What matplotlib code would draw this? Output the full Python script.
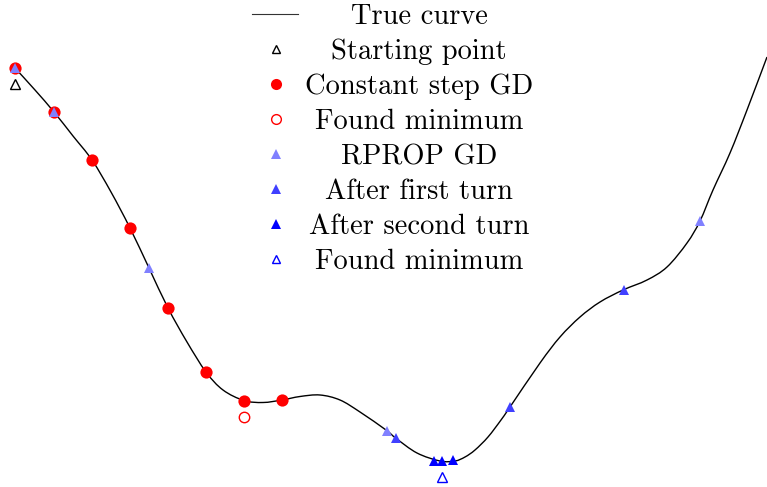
import matplotlib
matplotlib.use("Agg")
import matplotlib.pyplot as plt
import matplotlib.transforms as mtransforms
from matplotlib.path import Path
from matplotlib.patches import PathPatch

# True objective curve, sampled along x
curve_x = [15, 35, 54, 73, 92, 111, 130, 149, 168, 187, 206, 223, 244, 263, 282,
           300, 320, 340, 360, 386, 396, 417, 440, 455, 465, 475, 488, 501, 510,
           540, 560, 580, 600, 623, 647, 667, 687, 700, 713, 730, 747, 767]
curve_y = [419, 397, 375, 351, 327, 295, 259, 219, 179, 145, 115, 97, 86.5, 84.5, 87,
           90.5, 92, 87, 75, 57, 48.7, 34, 26, 26, 30, 37, 50, 67, 80,
           124, 150, 170, 185, 197, 207, 220, 244, 266, 297, 334, 377, 430]

# Constant-step gradient descent iterates
gd_x = [15, 54, 92, 130, 168, 206, 244, 282]
gd_y = [419, 375, 327, 259, 179, 115, 86.5, 87]
gd_min_x = [244]
gd_min_y = [86.5]

# RPROP iterates, split by phase
start_x = [15]
start_y = [419]
rprop_x = [15, 54, 149, 387, 700]
rprop_y = [419, 375, 219, 56.5, 266]
turn1_x = [396, 510, 624]
turn1_y = [48.7, 80, 197]
turn2_x = [434, 442, 453]
turn2_y = [26, 26, 27]
rprop_min_x = [442]
rprop_min_y = [26]

legend_labels = ["True curve", "Starting point", "Constant step GD", "Found minimum",
                 "RPROP GD", "After first turn", "After second turn", "Found minimum"]


def smooth_path(xs, ys):
    """Cubic Bezier path passing through every sample (Catmull-Rom tangents)."""
    pts = list(zip(xs, ys))
    verts = [pts[0]]
    codes = [Path.MOVETO]
    n = len(pts)
    for i in range(n - 1):
        p0 = pts[i - 1] if i > 0 else pts[i]
        p1 = pts[i]
        p2 = pts[i + 1]
        p3 = pts[i + 2] if i + 2 < n else pts[i + 1]
        c1 = (p1[0] + (p2[0] - p0[0]) / 6, p1[1] + (p2[1] - p0[1]) / 6)
        c2 = (p2[0] - (p3[0] - p1[0]) / 6, p2[1] - (p3[1] - p1[1]) / 6)
        verts += [c1, c2, p2]
        codes += [Path.CURVE4] * 3
    return Path(verts, codes)


W, H, DPI = 767, 487, 100
fig = plt.figure(figsize=(W / DPI, H / DPI), dpi=DPI)
ax = fig.add_axes([0, 0, 1, 1])
ax.set_xlim(0, W)
ax.set_ylim(0, H)
ax.axis("off")

# markers for "found minimum"/"starting point" sit just below the point
below = mtransforms.offset_copy(ax.transData, fig=fig, x=0, y=-16, units="dots")

RED = "#ff0000"
LIGHT = "#8080ff"
MID = "#4040ff"
BLUE = "#0000ff"

ax.add_patch(PathPatch(smooth_path(curve_x, curve_y), facecolor="none",
                       edgecolor="black", lw=1.0, zorder=1))
ax.plot(gd_x, gd_y, "o", color=RED, ms=8.8, mew=0, zorder=2)
ax.plot(gd_min_x, gd_min_y, "o", mfc="none", mec=RED, ms=7.5, mew=1.0,
        transform=below, zorder=2)
ax.plot(start_x, start_y, "^", mfc="none", mec="black", ms=6.5, mew=1.0,
        transform=below, zorder=2)
ax.plot(rprop_x, rprop_y, "^", color=LIGHT, ms=7.5, mew=0, zorder=3)
ax.plot(turn1_x, turn1_y, "^", color=MID, ms=7.5, mew=0, zorder=3)
ax.plot(turn2_x, turn2_y, "^", color=BLUE, ms=7.5, mew=0, zorder=3)
ax.plot(rprop_min_x, rprop_min_y, "^", mfc="none", mec=BLUE, ms=6.5, mew=1.0,
        transform=below, zorder=3)

# legend: handles in a column, labels centred in the next column
handle_styles = [
    dict(kind="line"),
    dict(marker="^", mfc="none", mec="black", ms=6.0, mew=1.0),
    dict(marker="o", mfc=RED, mec=RED, ms=8.0, mew=0),
    dict(marker="o", mfc="none", mec=RED, ms=7.0, mew=1.0),
    dict(marker="^", mfc=LIGHT, mec=LIGHT, ms=7.0, mew=0),
    dict(marker="^", mfc=MID, mec=MID, ms=7.0, mew=0),
    dict(marker="^", mfc=BLUE, mec=BLUE, ms=7.0, mew=0),
    dict(marker="^", mfc="none", mec=BLUE, ms=6.0, mew=1.0),
]
for i, (label, st) in enumerate(zip(legend_labels, handle_styles)):
    yy = 1 - (14 + 35 * i) / H
    if st.get("kind") == "line":
        ax.plot([252 / W, 298 / W], [yy, yy], color="#333333", lw=0.8,
                transform=ax.transAxes, clip_on=False)
    else:
        ax.plot([276 / W], [yy], linestyle="none", transform=ax.transAxes,
                clip_on=False, **st)
    ax.text(419 / W, yy, label, transform=ax.transAxes, ha="center",
            va="center_baseline", fontsize=20.5, family="cmr10")

fig.savefig("out.png", dpi=DPI)
